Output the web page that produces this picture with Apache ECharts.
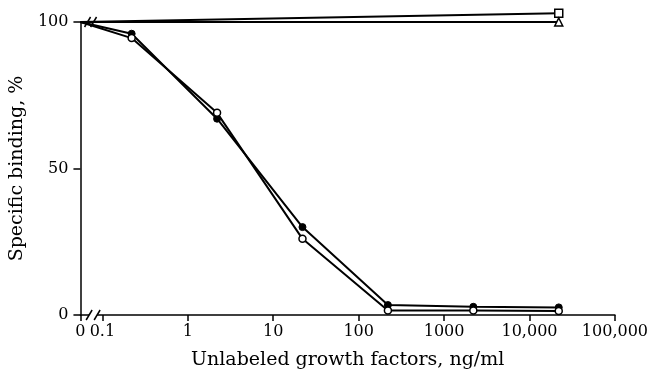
<!DOCTYPE html>
<html><head><meta charset="utf-8">
<script src="https://cdn.jsdelivr.net/npm/echarts@6/dist/echarts.min.js"></script>
<style>html,body{margin:0;padding:0;background:#fff}#c{width:651px;height:376px}</style>
</head><body><div id="c"></div>
<script>
// Data (concentration in ng/ml; 0 = no competitor)
var concentrations = [0, 0.22, 2.2, 22, 220, 2200, 22000];
var filledCircle = [100, 96, 67, 30, 3.4, 2.8, 2.6];
var openCircle = [100, 94.5, 69, 26, 1.5, 1.5, 1.4];
var flatConc = [0, 22000];
var openSquare = [100, 103];
var openTriangle = [100, 100];
var xTickValues = [0, 0.1, 1, 10, 100, 1000, 10000, 100000];
var xTickLabels = ['0', '0.1', '1', '10', '100', '1000', '10,000', '100,000'];
var yTickValues = [0, 50, 100];

var ZERO_POS = -1.257; // axis position of the "0" point (left of the break)
function pos(v){ return v === 0 ? ZERO_POS : Math.log10(v); }
function pts(xs, ys){
  return xs.map(function(x,i){ var d=[pos(x), ys[i]]; return x===0 ? {value:d, symbol:'none'} : d; });
}
var font = 'DejaVu Serif';
var tickPos = xTickValues.map(pos);

var chart = echarts.init(document.getElementById('c'));
var common = {type:'line', clip:false, symbolSize:7, lineStyle:{color:'#000', width:2}, itemStyle:{color:'#fff', borderColor:'#000', borderWidth:1.5}, animation:false, z:3};
chart.setOption({
  animation:false,
  grid:{left:79, right:36, top:22, bottom:61, containLabel:false},
  xAxis:{type:'value', min:ZERO_POS, max:5,
    axisLine:{onZero:false, lineStyle:{color:'#000', width:1.5}},
    axisTick:{show:true, inside:false, length:6, customValues:tickPos, lineStyle:{color:'#000', width:1.5}},
    axisLabel:{customValues:tickPos, margin:9, color:'#000', fontFamily:font, fontSize:16,
      formatter:function(v){ var i = tickPos.findIndex(function(p){return Math.abs(p-v)<1e-6;}); return i>=0 ? xTickLabels[i] : ''; }},
    splitLine:{show:false},
    name:'Unlabeled growth factors, ng/ml', nameLocation:'middle', nameGap:36,
    nameTextStyle:{color:'#000', fontFamily:font, fontSize:19}
  },
  yAxis:{type:'value', min:0, max:100,
    axisLine:{show:true, onZero:false, lineStyle:{color:'#000', width:1.5}},
    axisTick:{show:true, length:7, customValues:yTickValues, lineStyle:{color:'#000', width:1.5}},
    axisLabel:{customValues:yTickValues, margin:12, color:'#000', fontFamily:font, fontSize:16},
    splitLine:{show:false},
    name:'Specific binding, %', nameLocation:'middle', nameGap:42,
    nameTextStyle:{color:'#000', fontFamily:font, fontSize:19}
  },
  series:[
    Object.assign({}, common, {name:'square', data:pts(flatConc, openSquare), symbol:'rect', symbolSize:8}),
    Object.assign({}, common, {name:'triangle', data:pts(flatConc, openTriangle), symbol:'triangle', symbolSize:8}),
    Object.assign({}, common, {name:'filled', data:pts(concentrations, filledCircle), symbol:'circle', itemStyle:{color:'#000', borderColor:'#000', borderWidth:1}}),
    Object.assign({}, common, {name:'open', data:pts(concentrations, openCircle), symbol:'circle'})
  ]
});

// axis-break marks, placed through the axis scale
var bp = (ZERO_POS + (-1)) / 2 + 0.02;
var a = chart.convertToPixel({gridIndex:0}, [bp, 0]);
var b = chart.convertToPixel({gridIndex:0}, [bp - 0.03, 100]);
function slash(cx, cy, dx){
  return {type:'line', shape:{x1:cx+dx-3, y1:cy+5, x2:cx+dx+3, y2:cy-5}, style:{stroke:'#000', lineWidth:1.5}, z:10};
}
chart.setOption({graphic:[
  {type:'rect', shape:{x:a[0]-4, y:a[1]-3, width:8, height:6}, style:{fill:'#fff'}, z:9},
  slash(a[0], a[1], -4), slash(a[0], a[1], 4),
  slash(b[0], b[1], -3), slash(b[0], b[1], 3)
]});
</script></body></html>
